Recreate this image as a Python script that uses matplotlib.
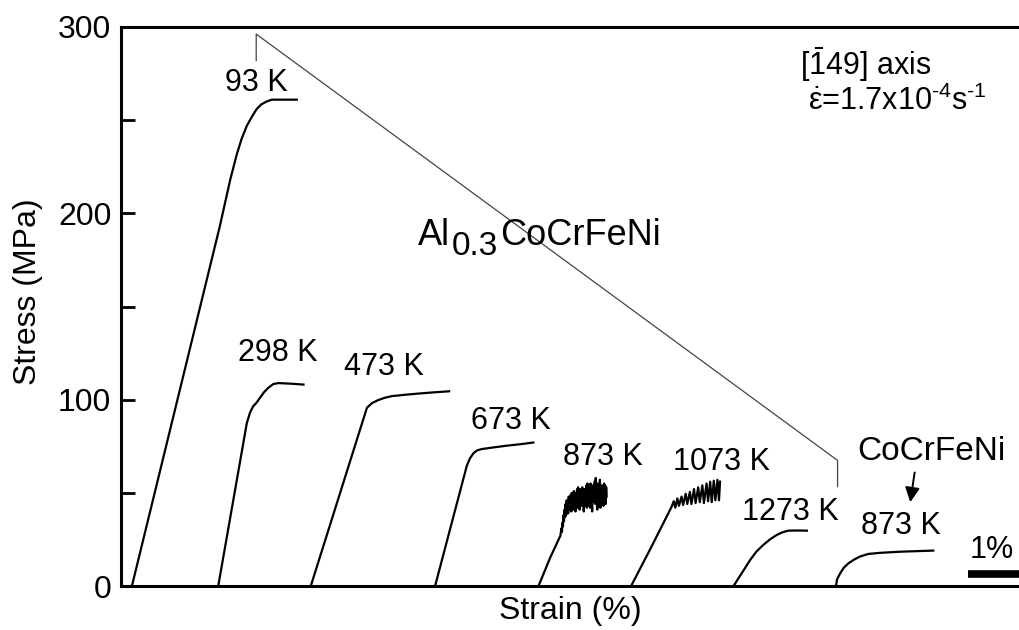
import numpy as np
import matplotlib
matplotlib.use('Agg')
from matplotlib import pyplot as plt
from matplotlib.ticker import MultipleLocator

plt.rcParams['font.family'] = ['Liberation Sans', 'DejaVu Sans']
plt.rcParams['mathtext.fontset'] = 'custom'
plt.rcParams['mathtext.rm'] = 'Liberation Sans'
plt.rcParams['mathtext.it'] = 'Liberation Sans'
plt.rcParams['mathtext.bf'] = 'Liberation Sans:bold'

# stress-strain curves, each shifted along the strain axis (strain in %, stress in MPa)
e_93 = [0.21, 1.90, 2.10, 2.23, 2.32, 2.42, 2.52, 2.61, 2.70, 2.80, 2.90, 2.99, 3.20, 3.38]
s_93 = [0, 193, 218, 232, 240, 247, 252, 256, 258.5, 260, 261, 261, 261, 261]

e_298 = [1.87, 2.42, 2.48, 2.54, 2.61, 2.67, 2.75, 2.83, 2.93, 3.03, 3.25, 3.51]
s_298 = [0, 87.5, 93, 96.4, 98.5, 100.9, 104, 106.3, 108.4, 108.9, 108.6, 108.1]

e_473 = [3.65, 4.73, 4.83, 4.94, 5.07, 5.21, 5.45, 5.69, 6.00, 6.31]
s_473 = [0, 95.7, 98.2, 99.7, 101, 101.9, 102.6, 103.2, 103.9, 104.5]

e_673 = [6.04, 6.65, 6.71, 6.78, 6.85, 6.94, 7.17, 7.42, 7.68, 7.93]
s_673 = [0, 64.5, 68.5, 71.3, 72.8, 73.5, 74.4, 75.3, 76.1, 77.0]

e_873 = [8.03, 8.25, 8.45, 8.47, 8.48, 8.49,
         8.50, 8.51, 8.52, 8.53, 8.54, 8.55, 8.56, 8.57, 8.58, 8.59,
         8.60, 8.61, 8.62, 8.63, 8.64, 8.65, 8.66, 8.67, 8.68, 8.69,
         8.70, 8.71, 8.72, 8.73, 8.74, 8.75, 8.76, 8.77, 8.78, 8.79,
         8.80, 8.81, 8.82, 8.83, 8.84, 8.85, 8.86, 8.87, 8.88, 8.89,
         8.90, 8.91, 8.92, 8.93, 8.94, 8.95, 8.96, 8.97, 8.98, 8.99,
         9.00, 9.01, 9.02, 9.03, 9.04, 9.05, 9.06, 9.07, 9.08, 9.09,
         9.10, 9.11, 9.12, 9.13, 9.14, 9.15, 9.16, 9.17, 9.18, 9.19,
         9.20, 9.21, 9.22, 9.23, 9.24, 9.25, 9.26, 9.27, 9.28, 9.29,
         9.30, 9.31, 9.32, 9.33, 9.34]
s_873 = [0, 15, 27, 31, 29, 34,
         32, 38, 35, 41, 37, 44, 38, 46, 40, 45,
         39, 48, 41, 47, 42, 49, 40, 50, 43, 48,
         41, 51, 43, 50, 40, 49, 44, 52, 42, 53,
         45, 50, 41, 52, 44, 50, 43, 53, 46, 51,
         40, 52, 43, 51, 44, 54, 42, 55, 43, 50,
         45, 53, 42, 55, 44, 52, 40, 54, 45, 52,
         47, 56, 44, 58, 45, 53, 41, 55, 46, 52,
         43, 57, 42, 53, 44, 54, 46, 51, 43, 55,
         45, 54, 44, 53, 48]

e_1073 = [9.81, 10.20, 10.59, 10.63, 10.66, 10.70, 10.73, 10.78, 10.81, 10.86,
          10.89, 10.94, 10.97, 11.02, 11.05, 11.10, 11.13, 11.18, 11.21, 11.26,
          11.29, 11.33, 11.36, 11.40, 11.43, 11.47, 11.50, 11.52]
s_1073 = [0, 21, 42.6, 45.5, 42.0, 47, 43, 48, 43.5, 49.5,
          44, 50.5, 44, 52, 44.5, 53, 45, 54, 44.5, 55,
          45.5, 56, 45, 56.5, 46, 57, 46, 56]

e_1273 = [11.78, 11.94, 12.10, 12.22, 12.35, 12.48, 12.61, 12.72, 12.83, 13.00, 13.19]
s_1273 = [0, 7, 14, 18.5, 22, 25, 27.4, 28.8, 29.7, 29.8, 29.7]

e_cocr = [13.75, 13.77, 13.83, 13.90, 13.99, 14.10, 14.21, 14.37, 14.60, 14.98, 15.30, 15.62]
s_cocr = [0, 3.5, 6.8, 9.8, 12.2, 14.2, 15.8, 17.2, 17.8, 18.4, 18.7, 19.0]

curves = [(e_93, s_93), (e_298, s_298), (e_473, s_473), (e_673, s_673),
          (e_873, s_873), (e_1073, s_1073), (e_1273, s_1273), (e_cocr, s_cocr)]

temp_labels = ['93 K', '298 K', '473 K', '673 K', '873 K', '1073 K', '1273 K', '873 K']
label_x = [2.60, 3.02, 5.06, 7.50, 9.27, 11.54, 12.88, 15.00]
label_y = [269.9, 125.3, 117.7, 88.7, 69.4, 66.7, 39.8, 32.3]

fig = plt.figure(figsize=(10.2, 6.3), dpi=100)
ax = fig.add_axes([121 / 1020, 44 / 630, 899 / 1020, 559 / 630])

for e, s in curves:
    ax.plot(e, s, color='black', lw=1.6, solid_joinstyle='round')

for t, x, y in zip(temp_labels, label_x, label_y):
    ax.text(x, y, t, fontsize=22, ha='center', va='center')

# bracket grouping the Al0.3CoCrFeNi curves
ax.plot([2.60, 2.60, 13.78, 13.78], [282, 296.2, 67.4, 53.4], color='#444444', lw=0.9)
ax.text(5.71, 183.0, 'Al', fontsize=26, ha='left', va='baseline')
ax.text(6.36, 177.6, '0.3', fontsize=24, ha='left', va='baseline')
ax.text(7.29, 183.0, 'CoCrFeNi', fontsize=26, ha='left', va='baseline')

ax.text(15.58, 72.0, 'CoCrFeNi', fontsize=24, ha='center', va='center')
ax.annotate('', xy=(15.17, 43.5), xytext=(15.27, 62.4),
            arrowprops=dict(arrowstyle='-|>', color='black', lw=1.4, mutation_scale=22))

ax.text(13.06, 274.0, r'[$\bar{1}$49] axis', fontsize=22, ha='left', va='baseline')
ax.text(13.21, 255.5, r'$\dot{\varepsilon}$=1.7x10$^{\text{-4}}$s$^{\text{-1}}$', fontsize=22,
        ha='left', va='baseline')

# 1 % strain scale bar
ax.plot([16.29, 17.29], [6.5, 6.5], color='black', lw=5.5, solid_capstyle='butt', clip_on=False)
ax.text(16.75, 19.4, '1%', fontsize=22, ha='center', va='center')

ax.set_xlim(0, 899 / 52)
ax.set_ylim(0, 300)
ax.yaxis.set_major_locator(MultipleLocator(100))
ax.yaxis.set_minor_locator(MultipleLocator(50))
ax.tick_params(axis='y', which='both', direction='in', length=10, width=2,
               labelsize=23, pad=7)
ax.tick_params(axis='x', bottom=False, labelbottom=False)
for side in ['left', 'top', 'bottom']:
    ax.spines[side].set_linewidth(2.2)
ax.spines['right'].set_visible(False)

ax.set_xlabel('Strain (%)', fontsize=23)
ax.set_ylabel('Stress (MPa)', fontsize=23)
ax.xaxis.set_label_coords(0.5, -0.018, transform=ax.transAxes)
ax.yaxis.set_label_coords(-78 / 899, 0.526)
ax.xaxis.label.set_va('top')

fig.savefig('out.png', dpi=100)
